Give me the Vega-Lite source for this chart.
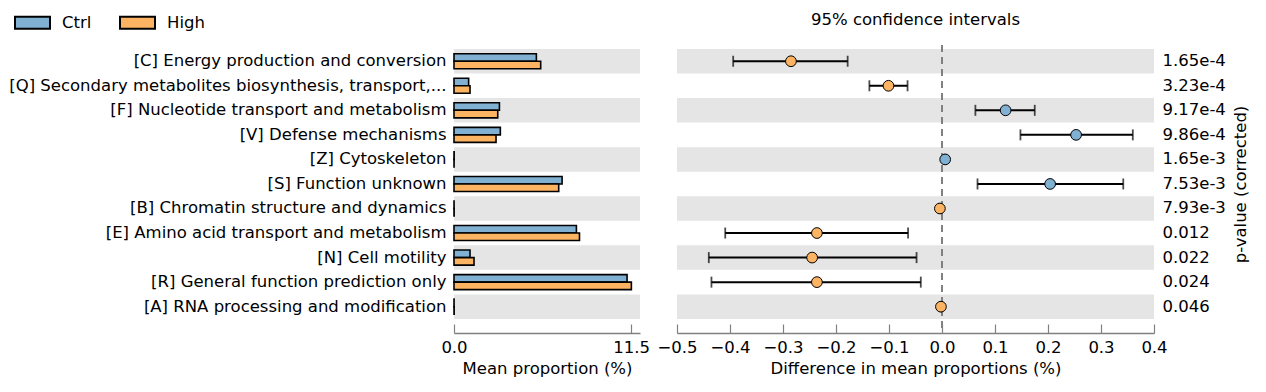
{
  "$schema": "https://vega.github.io/schema/vega-lite/v6.json",
  "padding": {"left": 8, "top": 4, "right": 5, "bottom": 5},
  "autosize": {"type": "pad"},
  "bounds": "flush",
  "spacing": 37,
  "datasets": {
    "rows": [
      {"order": 0, "category": "[C] Energy production and conversion", "pval": "1.65e-4", "Ctrl": 5.35, "High": 5.63, "diff": -0.285, "lo": -0.394, "hi": -0.178, "sign": "High", "shade": 1},
      {"order": 1, "category": "[Q] Secondary metabolites biosynthesis, transport,...", "pval": "3.23e-4", "Ctrl": 0.95, "High": 1.04, "diff": -0.101, "lo": -0.137, "hi": -0.065, "sign": "High", "shade": 0},
      {"order": 2, "category": "[F] Nucleotide transport and metabolism", "pval": "9.17e-4", "Ctrl": 2.95, "High": 2.84, "diff": 0.120, "lo": 0.063, "hi": 0.175, "sign": "Ctrl", "shade": 1},
      {"order": 3, "category": "[V] Defense mechanisms", "pval": "9.86e-4", "Ctrl": 3.01, "High": 2.73, "diff": 0.253, "lo": 0.148, "hi": 0.360, "sign": "Ctrl", "shade": 0},
      {"order": 4, "category": "[Z] Cytoskeleton", "pval": "1.65e-3", "Ctrl": 0.01, "High": 0.005, "diff": 0.006, "lo": 0.005, "hi": 0.007, "sign": "Ctrl", "shade": 1},
      {"order": 5, "category": "[S] Function unknown", "pval": "7.53e-3", "Ctrl": 7.02, "High": 6.80, "diff": 0.204, "lo": 0.067, "hi": 0.342, "sign": "Ctrl", "shade": 0},
      {"order": 6, "category": "[B] Chromatin structure and dynamics", "pval": "7.93e-3", "Ctrl": 0.005, "High": 0.01, "diff": -0.004, "lo": -0.005, "hi": -0.003, "sign": "High", "shade": 1},
      {"order": 7, "category": "[E] Amino acid transport and metabolism", "pval": "0.012", "Ctrl": 7.95, "High": 8.15, "diff": -0.236, "lo": -0.409, "hi": -0.064, "sign": "High", "shade": 0},
      {"order": 8, "category": "[N] Cell motility", "pval": "0.022", "Ctrl": 1.04, "High": 1.30, "diff": -0.245, "lo": -0.440, "hi": -0.048, "sign": "High", "shade": 1},
      {"order": 9, "category": "[R] General function prediction only", "pval": "0.024", "Ctrl": 11.24, "High": 11.52, "diff": -0.236, "lo": -0.435, "hi": -0.040, "sign": "High", "shade": 0},
      {"order": 10, "category": "[A] RNA processing and modification", "pval": "0.046", "Ctrl": 0.005, "High": 0.01, "diff": -0.002, "lo": -0.003, "hi": -0.001, "sign": "High", "shade": 1}
    ]
  },
  "hconcat": [
    {
      "width": 186,
      "height": 288,
      "data": {"name": "rows"},
      "layer": [
        {
          "transform": [{"filter": "datum.shade == 1"}],
          "mark": {"type": "rect", "fill": "#e5e5e5"},
          "encoding": {
            "y": {"field": "category", "type": "nominal", "sort": {"field": "order", "op": "min"}},
            "x": {"datum": 0, "type": "quantitative"},
            "x2": {"datum": 12.08}
          }
        },
        {
          "transform": [{"fold": ["Ctrl", "High"], "as": ["group", "value"]}],
          "mark": {"type": "bar", "stroke": "black", "strokeWidth": 1.6},
          "encoding": {
            "y": {"field": "category", "type": "nominal", "sort": {"field": "order", "op": "min"}},
            "yOffset": {"field": "group", "type": "nominal", "scale": {"paddingInner": 0, "paddingOuter": 0.63}},
            "x": {"field": "value", "type": "quantitative"},
            "color": {
              "field": "group", "type": "nominal",
              "scale": {"domain": ["Ctrl", "High"], "range": ["#80b1d3", "#fdb462"]},
              "legend": {
                "orient": "none", "legendX": -440, "legendY": -41, "direction": "horizontal",
                "title": null, "padding": 0,
                "symbolType": "M-1,-0.343H1V0.343H-1Z", "symbolSize": 1225,
                "symbolStrokeColor": "black", "symbolStrokeWidth": 2,
                "labelFontSize": 16.5, "labelFont": "DejaVu Sans", "labelColor": "black",
                "labelOffset": 11, "columnPadding": 24
              }
            }
          }
        }
      ],
      "encoding": {
        "x": {
          "type": "quantitative",
          "scale": {"domain": [0, 12.08], "nice": false, "zero": false},
          "axis": {
            "title": "Mean proportion (%)",
            "values": [0, 11.5], "format": ".1f",
            "labelFlush": false, "labelOverlap": false,
            "tickSize": -9, "labelPadding": 15, "titlePadding": 5
          }
        },
        "y": {
          "type": "nominal",
          "scale": {"paddingInner": 0, "paddingOuter": 0.367, "align": 0.22},
          "axis": {"title": null, "ticks": false, "domain": false, "labelPadding": 8, "labelLimit": 600}
        }
      }
    },
    {
      "width": 477,
      "height": 288,
      "data": {"name": "rows"},
      "title": {"text": "95% confidence intervals", "fontSize": 16.5, "fontWeight": "normal", "font": "DejaVu Sans", "anchor": "middle", "offset": 16, "color": "black"},
      "layer": [
        {
          "transform": [{"filter": "datum.shade == 1"}],
          "mark": {"type": "rect", "fill": "#e5e5e5"},
          "encoding": {
            "y": {"field": "pval", "type": "nominal", "sort": {"field": "order", "op": "min"}},
            "x": {"datum": -0.5, "type": "quantitative"},
            "x2": {"datum": 0.4}
          }
        },
        {
          "mark": {"type": "rule", "strokeDash": [7, 5], "color": "#808080", "strokeWidth": 2},
          "encoding": {"x": {"datum": 0, "type": "quantitative"}}
        },
        {
          "mark": {"type": "rule", "color": "black", "strokeWidth": 2},
          "encoding": {
            "y": {"field": "pval", "type": "nominal", "sort": {"field": "order", "op": "min"}},
            "x": {"field": "lo", "type": "quantitative"},
            "x2": {"field": "hi"}
          }
        },
        {
          "mark": {"type": "tick", "color": "black", "thickness": 1.8, "size": 11},
          "encoding": {
            "y": {"field": "pval", "type": "nominal", "sort": {"field": "order", "op": "min"}},
            "x": {"field": "lo", "type": "quantitative"}
          }
        },
        {
          "mark": {"type": "tick", "color": "black", "thickness": 1.8, "size": 11},
          "encoding": {
            "y": {"field": "pval", "type": "nominal", "sort": {"field": "order", "op": "min"}},
            "x": {"field": "hi", "type": "quantitative"}
          }
        },
        {
          "mark": {"type": "point", "shape": "circle", "filled": true, "size": 115, "stroke": "black", "strokeWidth": 1, "opacity": 1},
          "encoding": {
            "y": {"field": "pval", "type": "nominal", "sort": {"field": "order", "op": "min"}},
            "x": {"field": "diff", "type": "quantitative"},
            "color": {"field": "sign", "type": "nominal", "scale": {"domain": ["Ctrl", "High"], "range": ["#80b1d3", "#fdb462"]}, "legend": null}
          }
        }
      ],
      "encoding": {
        "x": {
          "type": "quantitative",
          "scale": {"domain": [-0.5, 0.4], "nice": false, "zero": false},
          "axis": {
            "title": "Difference in mean proportions (%)",
            "values": [-0.5, -0.4, -0.3, -0.2, -0.1, 0, 0.1, 0.2, 0.3, 0.4],
            "labelExpr": "replace(format(datum.value, '.1f'), '-', '\u2212')",
            "labelFlush": false, "labelOverlap": false,
            "tickSize": -9, "labelPadding": 15, "titlePadding": 5
          }
        },
        "y": {
          "type": "nominal",
          "scale": {"paddingInner": 0, "paddingOuter": 0.367, "align": 0.22},
          "axis": {
            "orient": "right", "title": "p-value (corrected)", "titleAngle": 270, "titleY": 139,
            "ticks": false, "domain": false, "labelPadding": 8, "titlePadding": 23, "labelLimit": 300
          }
        }
      }
    }
  ],
  "resolve": {"scale": {"x": "independent", "y": "independent", "color": "shared"}, "legend": {"color": "shared"}},
  "config": {
    "view": {"stroke": null},
    "font": "DejaVu Sans",
    "axis": {
      "labelFont": "DejaVu Sans", "titleFont": "DejaVu Sans", "labelFontSize": 16.5, "titleFontSize": 16.5,
      "titleFontWeight": "normal", "labelColor": "black", "titleColor": "black", "grid": false,
      "domainColor": "#808080", "tickColor": "#808080", "domainWidth": 1.5, "tickWidth": 1.2
    }
  }
}
